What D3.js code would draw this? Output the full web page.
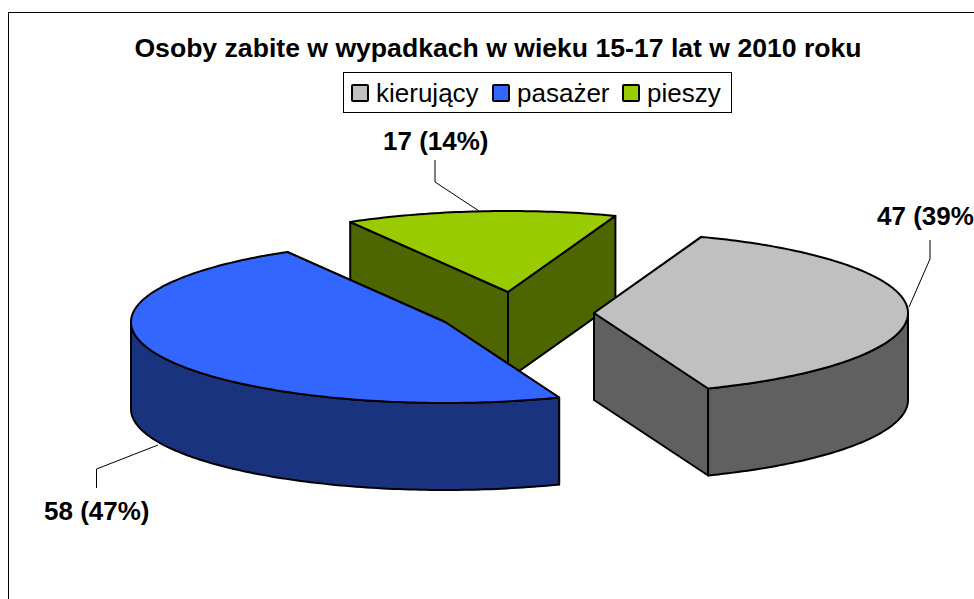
<!DOCTYPE html>
<html><head><meta charset="utf-8">
<script src="https://cdn.jsdelivr.net/npm/d3@7/dist/d3.min.js"></script>
<style>html,body{margin:0;padding:0;background:#fff;overflow:hidden}svg{display:block}text{font-family:"Liberation Sans",Arial,sans-serif;fill:#000}</style>
</head><body><script>
const titleText = "Osoby zabite w wypadkach w wieku 15-17 lat w 2010 roku";
const categories = ["kierujący", "pasażer", "pieszy"];
const values = [47, 58, 17];
const percents = [39, 47, 14];
const topColors = ["#C0C0C0", "#3366FF", "#99CC00"];
const sideColors = ["#606060", "#1A337F", "#4D6600"];

// layout only
const W = 974, H = 599, rx = 314, ry = 81, depth = 87;
const centres = [[594, 313], [445, 322], [508, 292]];
const drawOrder = [2, 1, 0];
const legendPos = [[352, 376], [493, 517], [623, 647]];
const labelPos = [[877, 225], [44, 520], [383, 150]];
const leaders = [[[930, 240], [930, 259], [909, 307]], [[96.5, 488], [96.5, 469], [158, 445]], [[435, 160], [435, 182], [479, 211]]];

const svg = d3.select("body").append("svg").attr("width", W).attr("height", H);
svg.append("rect").attr("x", 8.5).attr("y", 12.5).attr("width", W + 20).attr("height", H + 20)
  .attr("fill", "#fff").attr("stroke", "#000").attr("stroke-width", 1);

svg.append("text").attr("x", 498).attr("y", 57).attr("text-anchor", "middle")
  .attr("font-size", 26.6).attr("font-weight", "bold").text(titleText);

const lg = svg.append("g");
lg.append("rect").attr("x", 343.5).attr("y", 72.5).attr("width", 388).attr("height", 40)
  .attr("fill", "#fff").attr("stroke", "#000").attr("stroke-width", 1);
categories.forEach((c, i) => {
  lg.append("rect").attr("x", legendPos[i][0]).attr("y", 85).attr("width", 16).attr("height", 16).attr("rx", 1)
    .attr("fill", topColors[i]).attr("stroke", "#000").attr("stroke-width", 2);
  lg.append("text").attr("x", legendPos[i][1]).attr("y", 102).attr("font-size", 26).text(c);
});

const deg = Math.PI / 180;
const arcs = d3.pie().sort(null).startAngle(20 * deg).endAngle(380 * deg)(values);
const line = d3.line();
const pt = (i, a, dy = 0) => [centres[i][0] + rx * Math.sin(a), centres[i][1] - ry * Math.cos(a) + dy];
const arcPts = (i, a0, a1, dy = 0) => {
  const n = Math.max(2, Math.ceil((a1 - a0) / deg));
  return d3.range(n + 1).map(k => pt(i, a0 + (a1 - a0) * k / n, dy));
};
const stroke = s => s.attr("stroke", "#000").attr("stroke-width", 2).attr("stroke-linejoin", "round");

const pieG = svg.append("g");
drawOrder.forEach(i => {
  const d = arcs[i], c = centres[i];
  const a0 = d.startAngle, a1 = d.endAngle;
  [a0, a1].forEach(a => {
    const p = pt(i, a);
    stroke(pieG.append("path")).attr("fill", sideColors[i])
      .attr("d", line([c, p, [p[0], p[1] + depth], [c[0], c[1] + depth]]) + "Z");
  });
  const s0 = Math.max(a0, 90 * deg), s1 = Math.min(a1, 270 * deg);
  if (s1 > s0) {
    const pts = arcPts(i, s0, s1).concat(arcPts(i, s0, s1, depth).reverse());
    stroke(pieG.append("path")).attr("fill", sideColors[i]).attr("d", line(pts) + "Z");
  }
  stroke(pieG.append("path")).attr("fill", topColors[i])
    .attr("d", line([c].concat(arcPts(i, a0, a1))) + "Z");
});

values.forEach((v, i) => {
  svg.append("path").attr("fill", "none").attr("stroke", "#000").attr("stroke-width", 1).attr("d", line(leaders[i]));
  svg.append("text").attr("x", labelPos[i][0]).attr("y", labelPos[i][1])
    .attr("font-size", 26).attr("font-weight", "bold").text(`${v} (${percents[i]}%)`);
});
</script></body></html>
